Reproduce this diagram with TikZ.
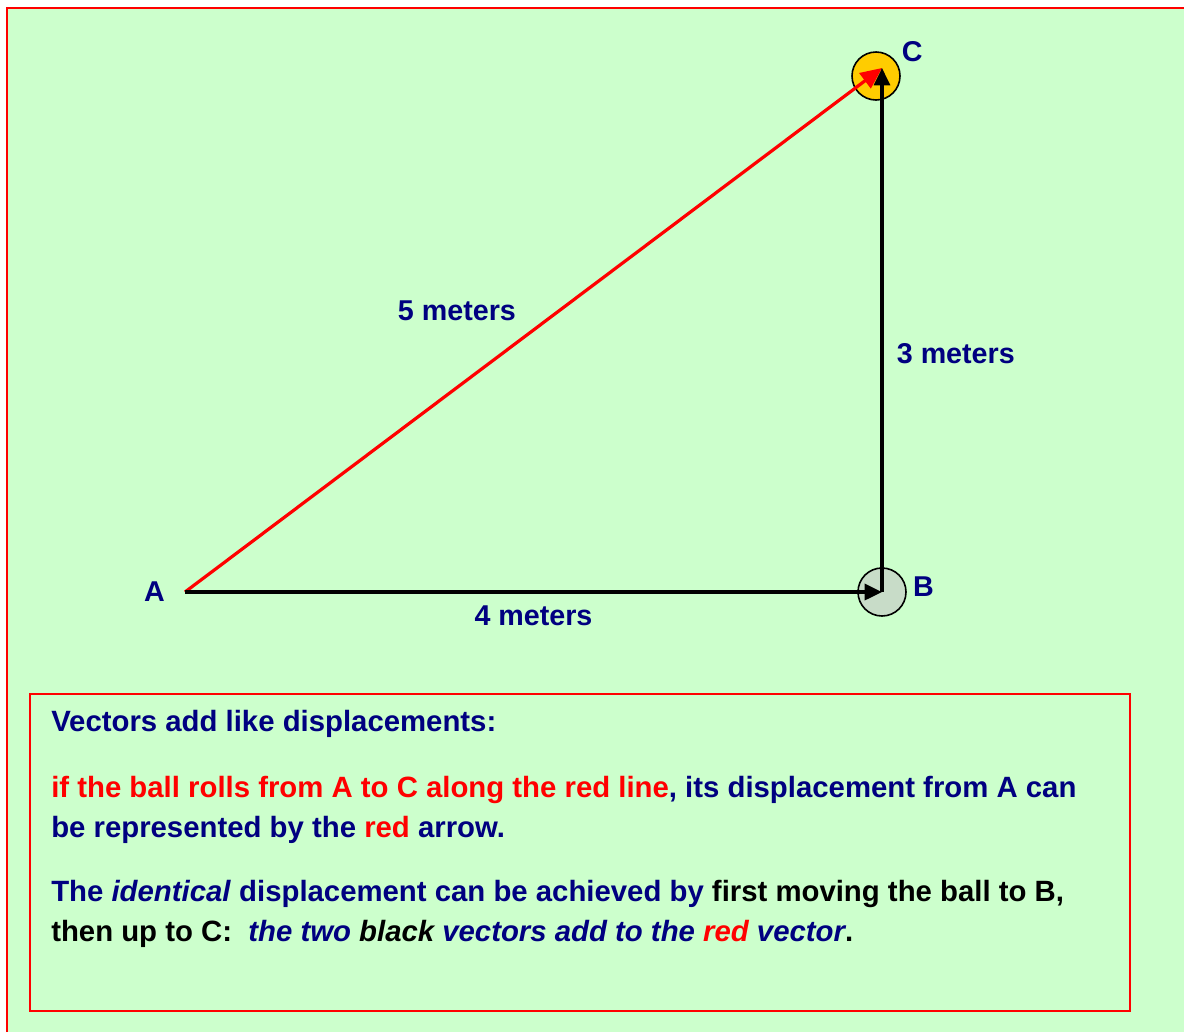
\documentclass[tikz,border=0pt]{standalone}
\usepackage{fontspec}
\setmainfont{Liberation Sans}
\usepackage{tikz}
\usetikzlibrary{arrows.meta, positioning}
\definecolor{pagegreen}{HTML}{CCFFCC}
\definecolor{framered}{HTML}{FF0000}
\definecolor{labelnavy}{HTML}{000080}
\definecolor{ballgold}{HTML}{FFCC00}
\definecolor{ballgray}{HTML}{C8DCC8}

\begin{document}
\begin{tikzpicture}[
    x=0.75pt, y=-0.75pt,
    every node/.style={font=\fontsize{21.5}{26}\selectfont\bfseries, inner sep=0pt},
    lbl/.style={text=labelnavy},
    ball/.style={circle, draw=black, line width=1.2pt, minimum size=36pt},
    vec/.style={line width=2.6pt, -{Triangle[length=13pt, width=12pt]}},
    redvec/.style={line width=2.4pt, framered, -{Triangle[length=16pt, width=14pt]}},
    textline/.style={anchor=base west, text=labelnavy, font=\fontsize{22}{26}\selectfont\bfseries}
]
    \useasboundingbox (0,0) rectangle (1184,1032);
    \fill[white] (0,0) rectangle (1184,1032);
    \fill[pagegreen] (7,8) rectangle (1184,1032);
    \draw[framered, line width=1.5pt] (7,1032) -- (7,8) -- (1184,8);

    % corners of the triangle
    \coordinate (A) at (185,592);
    \coordinate (B) at (882,592);
    \coordinate (C) at (882,68);
    \node[ball, fill=ballgray] (ballB) at (B) {};
    \node[ball, fill=ballgold] (ballC) at (876,76) {};

    % vectors
    \draw[redvec] (A) -- node[lbl, pos=0.5, anchor=south east, xshift=-12pt, yshift=6pt] (len5) {5 meters} (C);
    \draw[vec] (A) -- node[lbl, below=9pt] (len4) {4 meters} (B);
    \draw[vec, line width=2.3pt] (B) -- node[lbl, pos=0.455, right=10pt] (len3) {3 meters} (C);

    \node[lbl, left=15pt of A] (labA) {A};
    \node[lbl, right=4.5pt of ballB, yshift=4pt] (labB) {B};
    \node[lbl, above right=-3pt and 6pt of ballC.north east] (labC) {C};

    % note box
    \node[draw=framered, line width=1.5pt, minimum width=825pt, minimum height=237.75pt] (notebox) at (580,852.5) {};
    \node[textline] (line1) at (51,731) {Vectors add like displacements:};
    \node[textline] (line2) at (51,797) {\textcolor{framered}{if the ball rolls from A to C along the red line}, its displacement from A can};
    \node[textline] (line3) at (51,837) {be represented by the \textcolor{framered}{red} arrow.};
    \node[textline] (line4) at (51,901) {The \textit{identical} displacement can be achieved by \textcolor{black}{first moving the ball to B,}};
    \node[textline] (line5) at (51,941) {\textcolor{black}{then up to C:\ \ \textit{\textcolor{labelnavy}{the two} black \textcolor{labelnavy}{vectors add to the} \textcolor{framered}{red} \textcolor{labelnavy}{vector}}.}};
\end{tikzpicture}
\end{document}
